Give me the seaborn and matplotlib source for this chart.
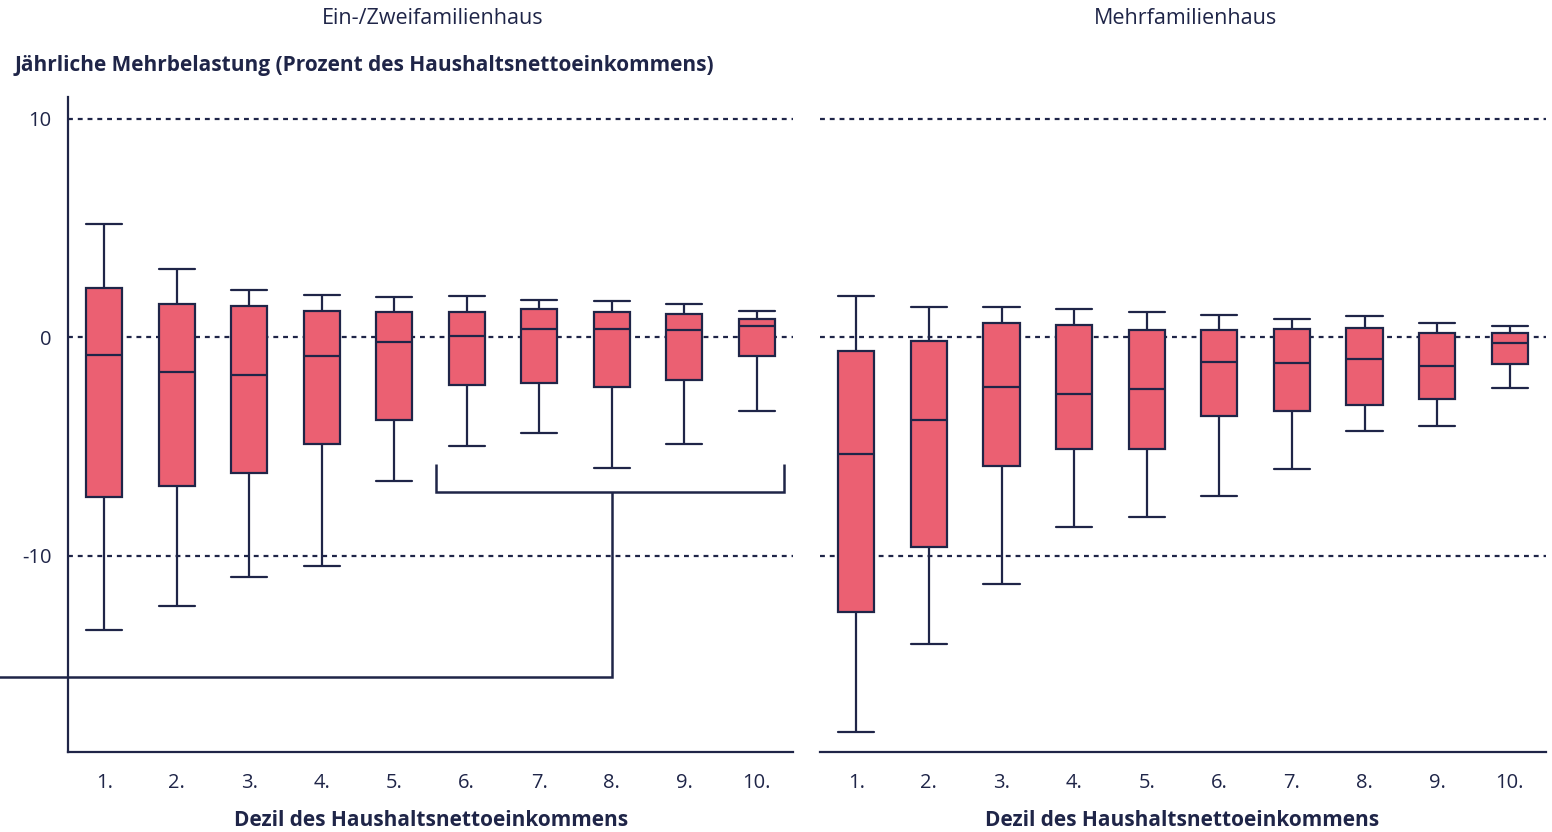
import numpy as np
import pandas as pd
import matplotlib
matplotlib.use("Agg")
import matplotlib.pyplot as plt
import seaborn as sns

# ---------------- data ----------------
deciles = ["1.", "2.", "3.", "4.", "5.", "6.", "7.", "8.", "9.", "10."]

# Ein-/Zweifamilienhaus
efh_low = [-13.4, -12.3, -11.0, -10.5, -6.6, -5.0, -4.4, -6.0, -4.9, -3.4]
efh_q1 = [-7.3, -6.8, -6.2, -4.9, -3.8, -2.2, -2.1, -2.3, -1.95, -0.87]
efh_med = [-0.8, -1.6, -1.75, -0.87, -0.2, 0.07, 0.38, 0.38, 0.32, 0.49]
efh_q3 = [2.23, 1.53, 1.45, 1.22, 1.17, 1.17, 1.27, 1.14, 1.05, 0.85]
efh_high = [5.2, 3.1, 2.14, 1.94, 1.83, 1.89, 1.71, 1.65, 1.5, 1.19]

# Mehrfamilienhaus
mfh_low = [-18.1, -14.05, -11.3, -8.7, -8.25, -7.28, -6.03, -4.32, -4.07, -2.33]
mfh_q1 = [-12.6, -9.6, -5.92, -5.11, -5.14, -3.6, -3.36, -3.1, -2.82, -1.25]
mfh_med = [-5.37, -3.78, -2.29, -2.61, -2.38, -1.14, -1.19, -1.02, -1.33, -0.29]
mfh_q3 = [-0.64, -0.17, 0.63, 0.55, 0.32, 0.32, 0.38, 0.43, 0.21, 0.2]
mfh_high = [1.89, 1.37, 1.37, 1.3, 1.13, 1.0, 0.85, 0.98, 0.67, 0.49]

panel_titles = ["Ein-/Zweifamilienhaus", "Mehrfamilienhaus"]
y_label = "Jährliche Mehrbelastung (Prozent des Haushaltsnettoeinkommens)"
x_label = "Dezil des Haushaltsnettoeinkommens"
y_ticks = [-10, 0, 10]
y_ticklabels = ["-10", "0", "10"]

# bracket annotation (left panel, data coordinates)
bracket_x = [4.58, 9.37]
bracket_stem_x = 7.0
bracket_y = -7.1
bracket_tip_y = -5.8
leader_y = -15.55
leader_x0 = -1.45


def long_table(low, q1, med, q3, high):
    rows = []
    for d, a, b, c, e, f in zip(deciles, low, q1, med, q3, high):
        for v in (a, b, c, e, f):
            rows.append({"Dezil": d, "Wert": v})
    return pd.DataFrame(rows)


df_efh = long_table(efh_low, efh_q1, efh_med, efh_q3, efh_high)
df_mfh = long_table(mfh_low, mfh_q1, mfh_med, mfh_q3, mfh_high)

# ---------------- style ----------------
sns.set_style("white")
plt.rcParams["font.family"] = ["Open Sans", "DejaVu Sans"]
navy = "#1F2548"
fill = "#EB6072"
plt.rcParams["text.color"] = navy
plt.rcParams["axes.labelcolor"] = navy
plt.rcParams["xtick.color"] = navy
plt.rcParams["ytick.color"] = navy

FS = 15
BOXW = 0.5

W, H = 1552, 832
fig = plt.figure(figsize=(W / 100, H / 100), dpi=100)
ax1 = fig.add_axes([68 / W, 80 / H, (793 - 68) / W, (752 - 97) / H])
ax2 = fig.add_axes([820 / W, 80 / H, (1546 - 820) / W, (752 - 97) / H], sharey=ax1)

for ax, df in ((ax1, df_efh), (ax2, df_mfh)):
    sns.boxplot(data=df, x="Dezil", y="Wert", order=deciles, whis=(0, 100),
                width=BOXW, color=fill, saturation=1, linecolor=navy,
                linewidth=1.6, showfliers=False, ax=ax, zorder=3)
    # caps as wide as the boxes
    for ln in ax.lines:
        xd = np.asarray(ln.get_xdata(), dtype=float)
        yd = np.asarray(ln.get_ydata(), dtype=float)
        if len(xd) == 2 and yd[0] == yd[1] and 0 < abs(xd[1] - xd[0]) < BOXW * 0.9:
            c = xd.mean()
            ln.set_xdata([c - BOXW / 2, c + BOXW / 2])
    ax.set_xlim(-0.5, 9.5)
    ax.set_ylim(-19, 11)
    ax.set_yticks(y_ticks)
    ax.set_yticklabels(y_ticklabels)
    ax.grid(axis="y", color=navy, linestyle=(0, (2.2, 2.2)), linewidth=1.6)
    ax.grid(axis="x", visible=False)
    ax.set_axisbelow(True)
    ax.set_xlabel("")
    ax.set_ylabel("")
    for s in ("top", "right"):
        ax.spines[s].set_visible(False)
    ax.spines["bottom"].set_color(navy)
    ax.spines["bottom"].set_linewidth(1.6)
    ax.spines["left"].set_color(navy)
    ax.spines["left"].set_linewidth(1.6)
    ax.tick_params(axis="x", length=6, width=1.6, labelsize=FS - 0.5, pad=9)
    ax.tick_params(axis="y", length=5, width=1.6, labelsize=FS - 0.5, pad=7)

ax2.spines["left"].set_visible(False)
ax2.tick_params(axis="y", left=False, labelleft=False)

# bracket annotation
lk = dict(color=navy, linewidth=1.8, clip_on=False, zorder=4,
          solid_capstyle="butt", solid_joinstyle="miter")
ax1.plot([bracket_x[0], bracket_x[0], bracket_x[1], bracket_x[1]],
         [bracket_tip_y, bracket_y, bracket_y, bracket_tip_y], **lk)
ax1.plot([bracket_stem_x, bracket_stem_x, leader_x0],
         [bracket_y, leader_y, leader_y], **lk)

# texts
fig.text(433 / W, 1 - 19 / H, panel_titles[0], ha="center", va="center", fontsize=FS + 0.5)
fig.text(1185 / W, 1 - 19 / H, panel_titles[1], ha="center", va="center", fontsize=FS + 0.5)
fig.text(15 / W, 1 - 66 / H, y_label, ha="left", va="center", fontsize=FS, fontweight="bold")
fig.text(431 / W, 1 - 820 / H, x_label, ha="center", va="center", fontsize=FS, fontweight="bold")
fig.text(1182 / W, 1 - 820 / H, x_label, ha="center", va="center", fontsize=FS, fontweight="bold")

fig.savefig("out.png", dpi=100, facecolor="white")
